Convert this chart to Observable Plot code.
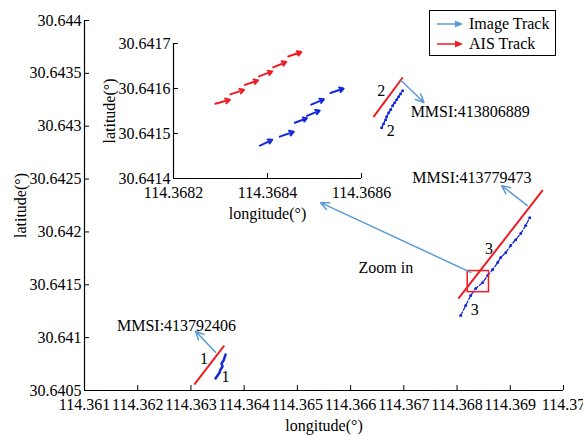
<!DOCTYPE html>
<html><head><meta charset="utf-8">
<script src="https://cdn.jsdelivr.net/npm/d3@7"></script>
<script src="https://cdn.jsdelivr.net/npm/@observablehq/plot@0.6"></script>
<style>
body{margin:0;background:#fff;}
#wrap{position:relative;width:583px;height:437px;overflow:hidden;}
#wrap, #wrap svg, #wrap svg text, #legend{font-family:"Liberation Serif","Times New Roman",Times,"DejaVu Serif",serif !important;}
#wrap svg.plot{position:absolute;left:0;top:0;background:transparent;overflow:visible;}
#legend{position:absolute;left:429px;top:10px;width:125px;height:44px;border:1px solid #000;background:#fff;font-size:16px;}
#legend .row{position:absolute;left:7px;height:20px;display:flex;align-items:center;}
#legend .row span{margin-left:6px;}
</style></head><body><div id="wrap"></div>
<script>
// ---- main axes ticks ----
const xTicks = [114.361,114.362,114.363,114.364,114.365,114.366,114.367,114.368,114.369,114.37];
const xTickLabels = ["114.361","114.362","114.363","114.364","114.365","114.366","114.367","114.368","114.369","114.37"];
const yTicks = [30.6405,30.641,30.6415,30.642,30.6425,30.643,30.6435,30.644];
const yTickLabels = ["30.6405","30.641","30.6415","30.642","30.6425","30.643","30.6435","30.644"];
// ---- inset ticks ----
const insetXTicks = [114.3682,114.3684,114.3686];
const insetXTickLabels = ["114.3682","114.3684","114.3686"];
const insetYTicks = [30.6414,30.6415,30.6416,30.6417];
const insetYTickLabels = ["30.6414","30.6415","30.6416","30.6417"];

// ---- AIS tracks (red) ----
const ais1Lon = [114.363073,114.363618], ais1Lat = [30.640563,30.640919];
const ais2Lon = [114.366438,114.366972], ais2Lat = [30.643093,30.643456];
const ais3Lon = [114.368036,114.369603], ais3Lat = [30.641376,30.642390];
// ---- Image tracks (blue) ----
const img1Lon = [114.363462,114.363500,114.363538,114.363556,114.363594,114.363575,114.363613,114.363632,114.363650];
const img1Lat = [30.640613,30.640642,30.640670,30.640699,30.640727,30.640755,30.640784,30.640812,30.640840];
const img2Lon = [114.366583,114.366620,114.366658,114.366677,114.366714,114.366752,114.366789,114.366827,114.366865,114.366902,114.366940,114.366977];
const img2Lat = [30.642986,30.643024,30.643062,30.643090,30.643128,30.643156,30.643194,30.643222,30.643251,30.643279,30.643307,30.643336];
const img3Lon = [114.368068,114.368162,114.368256,114.368350,114.368481,114.368575,114.368669,114.368763,114.368820,114.368914,114.369008,114.369102,114.369196,114.369290,114.369365];
const img3Lat = [30.641209,30.641303,30.641398,30.641464,30.641521,30.641587,30.641644,30.641710,30.641757,30.641804,30.641871,30.641927,30.641984,30.642060,30.642135];

// ---- inset arrows ----
const insetAisX1 = [114.368289,114.368321,114.368352,114.368382,114.368412,114.368444];
const insetAisY1 = [30.641566,30.641587,30.641608,30.641627,30.641647,30.641671];
const insetAisX2 = [114.368320,114.368350,114.368380,114.368410,114.368440,114.368472];
const insetAisY2 = [30.641575,30.641597,30.641618,30.641638,30.641659,30.641681];
const insetImgX1 = [114.368384,114.368426,114.368458,114.368484,114.368493,114.368534];
const insetImgY1 = [30.641473,30.641493,30.641524,30.641539,30.641564,30.641590];
const insetImgX2 = [114.368410,114.368456,114.368484,114.368511,114.368520,114.368562];
const insetImgY2 = [30.641486,30.641504,30.641534,30.641551,30.641576,30.641600];

// ---- annotations ----
const noteText = ["MMSI:413792406","MMSI:413806889","MMSI:413779473","Zoom in","1","1","2","2","3","3"];
const noteLon  = [114.362729,114.367128,114.367160,114.366150,114.363243,114.363650,114.366577,114.366752,114.368600,114.368331];
const noteLat  = [30.641114,30.643131,30.642510,30.641660,30.640800,30.640626,30.643336,30.642958,30.641840,30.641263];
const noteAnchor = ["middle","start","start","start","middle","middle","middle","middle","middle","middle"];
const pointerX1 = [114.363462,114.366953,114.369321,114.368256];
const pointerY1 = [30.640862,30.643430,30.642249,30.641618];
const pointerX2 = [114.363087,114.367378,114.368838,114.365436];
const pointerY2 = [30.641061,30.643225,30.642438,30.642277];
const zoomBoxLon = [114.3682,114.3686];
const zoomBoxLat = [30.64143,30.64163];

const RED = "#ee1c24", BLUE = "#1428dc", NOTE = "#5b9bd5";
const W = 583, H = 437;
const FONT = '"Liberation Serif", "Times New Roman", Times, serif';
const font = {fontFamily: FONT, fontSize: "16px", color: "#000", background: "transparent"};

function track(lon, lat, id) { return lon.map((x, i) => ({x, y: lat[i], id})); }
const ais = [...track(ais1Lon, ais1Lat, 1), ...track(ais2Lon, ais2Lat, 2), ...track(ais3Lon, ais3Lat, 3)];
const imgA = track(img1Lon, img1Lat, 1);
const imgB = [...track(img2Lon, img2Lat, 2), ...track(img3Lon, img3Lat, 3)];
const notes = noteText.map((t, i) => ({t, x: noteLon[i], y: noteLat[i], a: noteAnchor[i]}));
const pointers = pointerX1.map((x1, i) => ({x1, y1: pointerY1[i], x2: pointerX2[i], y2: pointerY2[i]}));

// main frame
const m = {left: 84, right: 20, top: 20, bottom: 47};
const xD = [xTicks[0], xTicks[xTicks.length - 1]], yD = [yTicks[0], yTicks[yTicks.length - 1]];
const xPerPx = (xD[1] - xD[0]) / (W - m.left - m.right), yPerPx = (yD[1] - yD[0]) / (H - m.top - m.bottom);
const TL = 5;

const main = Plot.plot({
  width: W, height: H,
  marginLeft: m.left, marginRight: m.right, marginTop: m.top, marginBottom: m.bottom,
  style: font,
  x: {domain: xD}, y: {domain: yD},
  marks: [
    Plot.ruleY([yD[0]], {stroke: "#000", strokeWidth: 1.2}),
    Plot.ruleX([xD[0]], {stroke: "#000", strokeWidth: 1.2}),
    Plot.ruleX(xTicks, {x: d => d, y1: yD[0], y2: yD[0] + TL * yPerPx, stroke: "#000"}),
    Plot.ruleY(yTicks, {y: d => d, x1: xD[0], x2: xD[0] + TL * xPerPx, stroke: "#000"}),
    Plot.axisX({ticks: xTicks, tickSize: 0, tickPadding: 8, tickFormat: d => xTickLabels[xTicks.indexOf(d)], fontSize: 16, fontFamily: FONT, label: "longitude(°)", labelAnchor: "center", labelOffset: 40, labelArrow: "none"}),
    Plot.axisY({ticks: yTicks, tickSize: 0, tickPadding: 3, tickFormat: d => yTickLabels[yTicks.indexOf(d)], fontSize: 16, fontFamily: FONT, label: "latitude(°)", labelAnchor: "center", labelOffset: 70, labelArrow: "none"}),
    Plot.line(imgA, {x: "x", y: "y", z: "id", stroke: BLUE, strokeWidth: 2.5}),
    Plot.line(imgB, {x: "x", y: "y", z: "id", stroke: BLUE, strokeWidth: 1.3, strokeDasharray: "4,2"}),
    Plot.dot(imgB, {x: "x", y: "y", r: 1.5, fill: BLUE}),
    Plot.line(ais, {x: "x", y: "y", z: "id", stroke: RED, strokeWidth: 2}),
    Plot.rect([0], {x1: zoomBoxLon[0], x2: zoomBoxLon[1], y1: zoomBoxLat[0], y2: zoomBoxLat[1], stroke: RED, strokeWidth: 1.5, fill: "none"}),
    Plot.arrow(pointers, {x1: "x1", y1: "y1", x2: "x2", y2: "y2", stroke: NOTE, strokeWidth: 1.5, headLength: 9, headAngle: 50}),
    Plot.text(notes.filter(d => d.a === "middle"), {x: "x", y: "y", text: "t", textAnchor: "middle", fontSize: 16, fontFamily: FONT, fill: "#000"}),
    Plot.text(notes.filter(d => d.a === "start"), {x: "x", y: "y", text: "t", textAnchor: "start", fontSize: 16, fontFamily: FONT, fill: "#000"})
  ]
});
main.classList.add("plot");

// inset frame
const im = {left: 173, right: W - 361, top: 43, bottom: H - 178};
const ixD = [insetXTicks[0], insetXTicks[insetXTicks.length - 1]], iyD = [insetYTicks[0], insetYTicks[insetYTicks.length - 1]];
const ixPerPx = (ixD[1] - ixD[0]) / (W - im.left - im.right), iyPerPx = (iyD[1] - iyD[0]) / (H - im.top - im.bottom);
const insetAis = insetAisX1.map((x1, i) => ({x1, y1: insetAisY1[i], x2: insetAisX2[i], y2: insetAisY2[i]}));
const insetImg = insetImgX1.map((x1, i) => ({x1, y1: insetImgY1[i], x2: insetImgX2[i], y2: insetImgY2[i]}));

const inset = Plot.plot({
  width: W, height: H,
  marginLeft: im.left, marginRight: im.right, marginTop: im.top, marginBottom: im.bottom,
  style: font,
  x: {domain: ixD}, y: {domain: iyD},
  marks: [
    Plot.ruleY([iyD[0]], {stroke: "#000", strokeWidth: 1.2}),
    Plot.ruleX([ixD[0]], {stroke: "#000", strokeWidth: 1.2}),
    Plot.ruleX(insetXTicks, {x: d => d, y1: iyD[0], y2: iyD[0] + TL * iyPerPx, stroke: "#000"}),
    Plot.ruleY(insetYTicks, {y: d => d, x1: ixD[0], x2: ixD[0] + TL * ixPerPx, stroke: "#000"}),
    Plot.axisX({ticks: insetXTicks, tickSize: 0, tickPadding: 8, tickFormat: d => insetXTickLabels[insetXTicks.indexOf(d)], fontSize: 16, fontFamily: FONT, label: "longitude(°)", labelAnchor: "center", labelOffset: 40, labelArrow: "none"}),
    Plot.axisY({ticks: insetYTicks, tickSize: 0, tickPadding: 3, tickFormat: d => insetYTickLabels[insetYTicks.indexOf(d)], fontSize: 16, fontFamily: FONT, label: "latitude(°)", labelAnchor: "center", labelOffset: 70, labelArrow: "none"}),
    Plot.arrow(insetAis, {x1: "x1", y1: "y1", x2: "x2", y2: "y2", stroke: RED, strokeWidth: 2, headLength: 5, headAngle: 60}),
    Plot.arrow(insetImg, {x1: "x1", y1: "y1", x2: "x2", y2: "y2", stroke: BLUE, strokeWidth: 2, headLength: 5, headAngle: 60})
  ]
});
inset.classList.add("plot");

const wrap = document.getElementById("wrap");
wrap.appendChild(main);
wrap.appendChild(inset);

const legend = document.createElement("div");
legend.id = "legend";
function arrowIcon(color) {
  return `<svg width="26" height="10" style="position:static"><line x1="0" y1="5" x2="20" y2="5" stroke="${color}" stroke-width="1.5"/><path d="M26,5 L18,1.5 L18,8.5 Z" fill="${color}"/></svg>`;
}
legend.innerHTML = `<div class="row" style="top:3px">${arrowIcon(NOTE)}<span>Image Track</span></div><div class="row" style="top:23px">${arrowIcon(RED)}<span>AIS Track</span></div>`;
wrap.appendChild(legend);
</script></body></html>
